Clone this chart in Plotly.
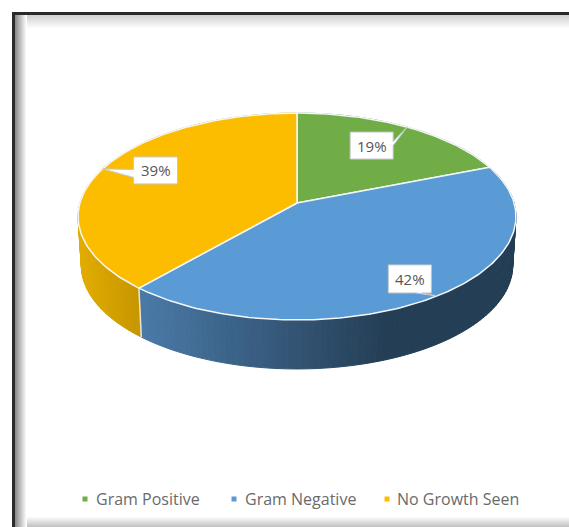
import math
import plotly.graph_objects as go

categories = ["Gram Positive", "Gram Negative", "No Growth Seen"]
values = [19.0, 42.4, 38.6]
top_colors = ["#70AD47", "#5B9BD5", "#FCBD00"]
side_left = [(90, 130, 60), (74, 122, 168), (226, 172, 0)]
side_right = [(70, 105, 45), (36, 62, 85), (198, 150, 0)]
side_span = [(300, 520), (139, 385), (78, 139)]
# callout box relative to leader tip: left, top, right, bottom, and wedge base on the box
callouts = [(-57, 5, -14, 32, "right"), (-49, -31, -6, -3, "bottom"), (31, -12, 75, 15, "left")]
legend_marker_x = [85, 234, 387]
legend_text_x = [96, 245, 397]
legend_y = 499

AX, BY, P = 217.1, 101.7, 0.1304
CX, CY = 297.0, 203.0
DEPTH, SHRINK = 49.0, 0.985


def top_pt(deg):
    a = math.radians(deg)
    u, v = math.sin(a), math.cos(a)
    d = 1 + P * v
    return CX + AX * u / d, CY - BY * v / d


def bot_pt(deg):
    x, y = top_pt(deg)
    return CX + (x - CX) * SHRINK, y + DEPTH


def frange(a, b, step):
    n = max(2, int(math.ceil((b - a) / step)))
    return [a + (b - a) * i / n for i in range(n + 1)]


total = sum(values)
starts, ends = [], []
acc = 0.0
for val in values:
    starts.append(acc / total * 360)
    acc += val
    ends.append(acc / total * 360)

fig = go.Figure()

# extruded side wall
for i, name in enumerate(categories):
    angs = frange(starts[i], ends[i], 1.5)
    x0, x1 = side_span[i]
    for a, b in zip(angs[:-1], angs[1:]):
        pa, pb = top_pt(a), top_pt(b)
        qa, qb = bot_pt(a), bot_pt(b)
        t = max(0.0, min(1.0, ((pa[0] + pb[0]) / 2 - x0) / (x1 - x0)))
        c = [round(l + (r - l) * t) for l, r in zip(side_left[i], side_right[i])]
        col = "rgb(%d,%d,%d)" % tuple(c)
        fig.add_trace(go.Scatter(
            x=[pa[0], pb[0], qb[0], qa[0], pa[0]], y=[pa[1], pb[1], qb[1], qa[1], pa[1]],
            mode="lines", fill="toself", fillcolor=col, line=dict(color=col, width=1),
            hoverinfo="skip", showlegend=False))

# seam between blue and yellow walls
seam = ends[1]
fig.add_trace(go.Scatter(x=[top_pt(seam)[0], bot_pt(seam)[0]], y=[top_pt(seam)[1], bot_pt(seam)[1]],
                         mode="lines", line=dict(color="#E8E4D8", width=1.5),
                         hoverinfo="skip", showlegend=False))

# top faces
for i, name in enumerate(categories):
    pts = [top_pt(a) for a in frange(starts[i], ends[i], 1.0)]
    xs = [CX] + [p[0] for p in pts] + [CX]
    ys = [CY] + [p[1] for p in pts] + [CY]
    fig.add_trace(go.Scatter(x=xs, y=ys, mode="lines", fill="toself", fillcolor=top_colors[i],
                             line=dict(color="#F4F7FA", width=1.5), name=name,
                             hoverinfo="skip", showlegend=False))

annotations = []
# callouts
for i, name in enumerate(categories):
    mid = (starts[i] + ends[i]) / 2
    tx, ty = top_pt(mid)
    l, t, r, b, side = callouts[i]
    L, T, R, B = tx + l, ty + t, tx + r, ty + b
    if side == "right":
        ym = (T + B) / 2
        xs = [L, R, R, tx, R, R, L, L]
        ys = [T, T, ym - 4, ty, ym, B, B, T]
    elif side == "left":
        ym = (T + B) / 2
        xs = [L, R, R, L, L, tx, L, L]
        ys = [T, T, B, B, ym + 7, ty, ym - 1, T]
    else:
        xm = (L + R) / 2
        xs = [L, R, R, xm + 12, tx, xm + 6, L, L]
        ys = [T, T, B, B, ty, B, B, T]
    fig.add_trace(go.Scatter(x=xs, y=ys, mode="lines", fill="toself", fillcolor="#FFFFFF",
                             line=dict(color="#C4C8CC", width=1), hoverinfo="skip", showlegend=False))
    annotations.append(dict(x=(L + R) / 2, y=(T + B) / 2, xref="x", yref="y", showarrow=False,
                            text="%d%%" % round(values[i] / total * 100),
                            font=dict(family="Open Sans", size=15, color="#555555")))

# legend
for i, name in enumerate(categories):
    fig.add_trace(go.Scatter(x=[legend_marker_x[i]], y=[legend_y], mode="markers", name=name,
                             marker=dict(symbol="square", size=5, color=top_colors[i]),
                             hoverinfo="skip", showlegend=False))
    annotations.append(dict(x=legend_text_x[i], y=legend_y, xref="x", yref="y", xanchor="left",
                            showarrow=False, xshift=-2, text=name,
                            font=dict(family="Open Sans", size=16, color="#6A6A6A")))

# picture frame: dark rule with inner shadow on top and left, soft shadow at the bottom
shapes = []
for k in range(14):
    g = round(205 + (255 - 205) * (k + 1) / 14)
    col = "rgb(%d,%d,%d)" % (g, g, g)
    shapes.append(dict(type="rect", xref="x", yref="y", x0=15, x1=569, y0=15 + k, y1=16 + k,
                       fillcolor=col, line_width=0, layer="below"))
for k in range(10):
    g = round(255 - (255 - 195) * (k + 1) / 10)
    col = "rgb(%d,%d,%d)" % (g, g, g)
    shapes.append(dict(type="rect", xref="x", yref="y", x0=15, x1=569, y0=517 + k, y1=518 + k,
                       fillcolor=col, line_width=0, layer="below"))
for k in range(12):
    g = round(130 + (255 - 130) * (k + 1) / 12)
    col = "rgb(%d,%d,%d)" % (g, g, g)
    shapes.append(dict(type="rect", xref="x", yref="y", x0=15 + k, x1=16 + k, y0=15, y1=527,
                       fillcolor=col, line_width=0, layer="below"))
shapes.append(dict(type="rect", xref="x", yref="y", x0=12, x1=569, y0=12, y1=15,
                   fillcolor="#2A2A2A", line_width=0, layer="above"))
shapes.append(dict(type="rect", xref="x", yref="y", x0=12, x1=15, y0=12, y1=527,
                   fillcolor="#2A2A2A", line_width=0, layer="above"))

fig.update_layout(
    width=569, height=527, margin=dict(l=0, r=0, t=0, b=0),
    paper_bgcolor="white", plot_bgcolor="white", showlegend=False,
    xaxis=dict(range=[0, 569], visible=False, fixedrange=True),
    yaxis=dict(range=[527, 0], visible=False, fixedrange=True),
    annotations=annotations, shapes=shapes,
)
fig.write_html("out.html", config=dict(displayModeBar=False),
               post_script="document.body.style.margin='0';document.body.style.overflow='hidden';")
